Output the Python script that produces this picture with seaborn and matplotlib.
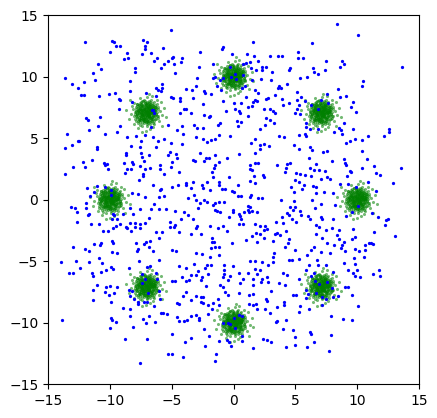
#!/usr/bin/env python3

import matplotlib
matplotlib.use("Agg")
import matplotlib.pyplot as plt
import numpy as np
import seaborn as sns

# centres of the eight green clusters
cluster_x = [10.0, 7.07, 0.0, -7.07, -10.0, -7.07, 0.0, 7.07]
cluster_y = [0.0, 7.07, 10.0, 7.07, 0.0, -7.07, -10.0, -7.07]

# spread of the points around each cluster centre: loose halo
green_halo = [
    (0.12, -0.31), (-0.45, 0.22), (0.63, 0.08), (-0.18, -0.72), (0.35, 0.51), (-0.71, -0.14), (0.05, 0.88),
    (0.92, -0.40), (-0.33, 0.05), (0.21, -0.09), (-0.58, 0.61), (0.44, -0.66), (-0.06, 0.37), (0.77, 0.29),
    (-0.92, -0.51), (0.28, 0.19), (-0.25, -0.40), (0.53, -0.21), (-0.40, 0.83), (0.10, -1.05), (1.12, 0.15),
    (-1.08, 0.30), (0.38, 1.02), (-0.20, 0.12), (0.66, -0.95), (-0.64, -0.82), (0.02, -0.18), (-0.13, 0.58),
    (0.85, 0.66), (-0.82, 0.48), (0.31, -0.43), (-0.49, -0.29), (0.16, 0.72), (0.58, 0.38), (-0.30, -1.10),
    (1.30, -0.22), (-1.25, -0.10), (0.47, 0.02), (-0.08, -0.55), (0.24, 0.41), (-0.68, 0.12), (0.71, -0.52),
    (-0.37, 0.44), (0.09, 1.25), (-0.55, -0.60), (0.95, 0.45), (-0.15, -0.85), (0.33, -1.30), (-1.02, 0.79),
    (0.60, 0.90), (-0.02, 0.06), (0.19, -0.66), (-0.77, -0.33), (0.40, 0.27), (-0.26, 0.98), (1.05, -0.70),
    (-0.44, -0.05), (0.13, 0.25), (0.81, -0.12), (-0.60, 0.35), (0.27, -0.24), (-0.11, -0.28), (0.52, 0.65),
    (-0.89, 0.02), (0.35, -0.80), (-0.47, 1.20), (1.45, 0.40), (-1.40, -0.55), (0.00, -1.48), (0.20, 1.55),
    (-0.34, -0.16), (0.69, 0.14), (-0.19, 0.29), (0.07, -0.38), (0.49, -0.35), (-0.52, -0.97), (0.88, 1.02),
    (-0.98, -0.95), (0.15, 0.48), (-0.07, 0.80), (0.36, 0.12), (-0.29, -0.61), (0.62, -0.02), (-0.75, 0.70),
    (0.03, -0.80), (1.18, 0.85), (-1.15, 0.55), (0.55, -1.15), (-0.62, -1.25), (0.25, 0.95), (-0.42, 0.18),
    (0.11, 0.03), (0.74, 0.48), (-0.23, -0.22), (0.42, -0.55), (-0.86, -0.68), (0.30, 0.62), (-0.14, 1.05),
    (1.60, -0.35), (-1.62, 0.20), (0.57, 0.22), (-0.38, -0.45), (0.18, -0.12), (-0.04, 0.45), (0.93, -0.25),
    (-0.70, -0.08), (0.46, 1.32), (-0.32, -1.55), (1.25, -1.05), (-1.30, 1.05),
]

# dense core of each cluster
green_core = [
    (0.05, 0.10), (-0.12, 0.22), (0.25, -0.05), (-0.30, -0.15), (0.18, 0.35), (-0.08, -0.32), (0.40, 0.12),
    (-0.42, 0.05), (0.10, -0.20), (-0.20, 0.40), (0.33, -0.28), (-0.25, -0.35), (0.00, 0.00), (0.15, 0.05),
    (-0.05, 0.15), (0.28, 0.22), (-0.35, 0.28), (0.22, -0.40), (-0.15, -0.10), (0.45, -0.15), (-0.48, -0.22),
    (0.08, 0.48), (-0.02, -0.50), (0.36, 0.40), (-0.38, -0.42), (0.52, 0.25), (-0.55, 0.18), (0.12, -0.55),
    (-0.22, 0.55), (0.60, -0.05), (-0.60, -0.02), (0.03, 0.62), (-0.10, -0.65), (0.42, -0.45), (-0.45, 0.46),
    (0.20, 0.15), (-0.18, -0.22), (0.30, 0.02), (-0.28, 0.08), (0.06, -0.30), (-0.07, 0.30), (0.38, -0.02),
    (-0.40, -0.05), (0.14, 0.26), (-0.16, -0.48), (0.48, 0.08), (-0.50, 0.32), (0.26, -0.18), (-0.32, -0.28),
    (0.09, 0.38), (-0.03, -0.12), (0.20, -0.30), (-0.24, 0.20), (0.35, 0.30), (-0.36, -0.10), (0.55, -0.30),
    (-0.58, -0.35), (0.30, 0.55), (-0.30, 0.62), (0.02, 0.20), (0.16, -0.08), (-0.12, -0.02), (0.44, 0.46),
    (-0.46, -0.52), (0.66, 0.20), (-0.66, 0.10), (0.10, -0.70), (-0.05, 0.72), (0.24, 0.00), (-0.26, -0.04),
    (0.07, 0.12), (-0.09, 0.06), (0.12, -0.12), (-0.14, 0.12), (0.32, -0.10), (-0.34, 0.18), (0.20, 0.42),
    (-0.20, -0.40), (0.50, -0.50), (-0.52, 0.55), (0.04, -0.04), (0.18, 0.20), (-0.18, 0.32), (0.27, -0.34),
    (-0.29, -0.20), (0.40, 0.22), (-0.42, 0.24), (0.22, -0.24), (-0.22, -0.56), (0.58, 0.40), (0.70, -0.28),
    (-0.72, -0.20), (0.34, 0.68), (-0.36, 0.70), (0.26, -0.66), (-0.40, -0.62), (0.13, 0.55), (-0.56, 0.02),
    (0.62, 0.06), (0.00, -0.40), (-0.10, 0.50), (0.46, -0.04),
]

# ring between core and halo
green_mid = [
    (0.75, 0.10), (-0.78, 0.05), (0.05, 0.80), (-0.02, -0.78), (0.55, 0.55), (-0.55, 0.58), (0.58, -0.55),
    (-0.60, -0.52), (0.85, -0.30), (-0.82, 0.32), (0.30, 0.85), (-0.32, -0.85), (0.68, 0.42), (-0.70, -0.40),
    (0.40, -0.72), (-0.42, 0.72), (0.90, 0.05), (-0.90, -0.08), (0.10, -0.90), (-0.08, 0.92), (0.62, 0.18),
    (-0.65, 0.22), (0.22, 0.64), (-0.20, -0.66), (0.50, -0.38), (-0.48, 0.40), (0.44, 0.60), (-0.46, -0.64),
    (0.78, -0.48), (-0.76, 0.50), (0.48, 0.78), (-0.50, -0.80), (0.70, 0.65), (-0.68, -0.70), (0.66, -0.70),
    (-0.72, 0.68), (0.95, 0.30), (-0.95, -0.30), (0.32, -0.95), (-0.30, 0.95), (0.58, 0.02), (-0.60, 0.00),
    (0.00, 0.58), (0.04, -0.60), (0.80, 0.48), (-0.52, 0.82), (0.52, -0.82), (-0.82, -0.25), (0.25, 0.80),
    (-0.28, -0.52), (0.82, -0.08), (-0.85, 0.15), (0.15, -0.82), (-0.12, 0.82), (0.64, -0.30), (-0.62, 0.36),
    (0.36, 0.40), (-0.40, -0.28), (0.72, 0.30), (-0.35, 0.50),
]

# blue points, y > 5
blue_upper = [
    (-12.0, 12.8), (-9.8, 12.9), (-9.7, 12.8), (-9.5, 12.5), (-9.2, 12.5), (-10.0, 12.0), (-8.6, 11.9),
    (-8.9, 11.4), (-8.5, 11.5), (-7.3, 12.95), (-7.0, 12.8), (-7.2, 12.5), (-7.2, 12.2), (-7.4, 11.8),
    (-6.7, 11.9), (-5.7, 12.3), (-6.4, 11.3), (-6.2, 11.5), (-5.6, 11.0), (-5.3, 11.3), (-11.0, 11.0),
    (-10.7, 10.65), (-11.4, 10.3), (-11.2, 9.7), (-12.1, 9.55), (-13.6, 9.9), (-13.1, 9.4), (-12.6, 9.06),
    (-12.3, 8.5), (-12.1, 8.5), (-10.9, 8.4), (-10.06, 8.57), (-9.6, 8.7), (-9.3, 8.2), (-9.2, 8.1),
    (-8.4, 9.6), (-8.0, 10.7), (-8.0, 10.36), (-8.4, 8.8), (-8.2, 7.9), (-5.85, 10.7), (-6.3, 9.1),
    (-6.1, 8.9), (-5.9, 8.8), (-5.8, 9.4), (-5.8, 9.05), (-7.1, 8.65), (-6.3, 8.4), (-9.3, 7.35),
    (-6.5, 7.3), (-6.6, 7.3), (-6.4, 7.0), (-5.3, 6.1), (-11.9, 6.6), (-11.8, 6.5), (-10.8, 6.7),
    (-11.0, 6.0), (-11.7, 5.65), (-13.5, 5.3), (-10.4, 5.3), (-9.2, 5.98), (-9.4, 5.5), (-8.6, 5.1),
    (-7.85, 5.2), (-7.2, 5.25), (-6.7, 5.9), (-6.5, 5.1),
    (-5.1, 13.8), (1.6, 12.8), (-0.85, 12.4), (-0.93, 12.25), (-2.7, 12.0), (-0.12, 11.8), (1.1, 11.8),
    (1.67, 11.7), (2.97, 11.65), (3.6, 11.65), (3.9, 11.65), (-4.9, 11.6), (-5.0, 11.5), (-4.2, 11.5),
    (-4.25, 11.2), (-4.8, 11.0), (-2.8, 10.8), (-1.66, 11.0), (-4.74, 10.3), (0.78, 11.0), (1.0, 11.1),
    (1.34, 11.2), (1.99, 11.3), (1.43, 10.7), (1.8, 10.5), (2.3, 10.5), (2.3, 10.8), (2.6, 10.8),
    (3.1, 10.4), (4.5, 10.5), (4.6, 10.7), (-0.28, 10.76), (-0.2, 10.0), (0.2, 9.8), (0.13, 10.2),
    (-0.85, 9.9), (-1.1, 9.7), (-1.66, 9.9), (-1.5, 9.95), (-1.33, 9.2), (-1.0, 8.9), (0.78, 10.1),
    (0.94, 9.2), (0.72, 9.06), (1.45, 9.7), (2.2, 9.8), (1.75, 8.9), (2.0, 8.7), (3.05, 9.7),
    (3.8, 9.06), (3.7, 9.2), (3.6, 9.1), (4.34, 9.4), (-2.95, 9.9), (-3.0, 9.2), (-3.36, 8.9),
    (-3.85, 8.98), (-2.4, 8.8), (-2.3, 8.65), (-1.8, 8.6), (-5.06, 8.33), (-4.9, 8.25), (-4.33, 8.25),
    (-4.33, 8.0), (-3.3, 8.25), (-0.85, 8.0), (0.0, 7.85), (0.61, 7.85), (1.0, 8.3), (1.6, 7.9),
    (1.75, 8.1), (1.9, 8.0), (1.5, 7.6), (1.18, 7.5), (2.6, 8.17), (2.8, 8.25), (3.37, 8.5),
    (3.94, 8.17), (5.1, 8.1), (-4.0, 7.4), (-3.85, 7.4), (-2.44, 7.76), (-4.33, 7.0), (-3.44, 7.0),
    (-2.4, 6.87), (-1.9, 6.8), (-1.98, 6.7), (-0.6, 7.2), (0.13, 7.36), (0.45, 7.2), (0.53, 7.03),
    (1.18, 6.8), (0.3, 6.4), (0.37, 6.0), (0.61, 6.3), (2.48, 7.36), (2.97, 7.36), (3.2, 7.2),
    (2.64, 6.6), (2.97, 6.46), (3.37, 7.0), (3.29, 6.2), (2.56, 6.1), (2.15, 5.7), (4.0, 7.7),
    (4.5, 7.85), (5.15, 7.36), (-1.06, 6.2), (-1.25, 6.1), (-3.2, 6.1), (-4.2, 6.0), (-4.6, 5.65),
    (-2.95, 5.8), (-2.47, 5.8), (-4.1, 5.3), (-3.0, 5.1), (-1.17, 5.25), (-0.28, 5.17), (3.7, 5.17),
    (4.1, 5.1),
    (8.36, 14.3), (10.07, 13.4), (6.33, 12.7), (5.2, 12.0), (5.2, 11.5), (5.6, 11.5), (7.47, 11.25),
    (8.77, 11.25), (8.93, 11.0), (8.6, 10.76), (6.4, 10.7), (6.5, 10.4), (7.39, 10.5), (6.8, 10.2),
    (13.63, 10.76), (5.36, 9.87), (5.93, 9.95), (10.47, 9.6), (10.4, 9.2), (8.44, 8.98), (5.12, 8.73),
    (5.44, 8.33), (7.55, 8.57), (8.6, 8.33), (9.09, 8.4), (9.66, 7.9), (9.5, 7.5), (9.9, 7.1),
    (5.28, 7.68), (5.77, 8.0), (6.3, 7.68), (7.06, 8.08), (7.6, 7.84), (6.8, 7.36), (4.96, 7.03),
    (5.36, 6.95), (5.85, 6.2), (6.2, 5.73), (5.85, 5.9), (6.8, 5.73), (8.93, 6.2), (8.52, 5.8),
    (8.7, 5.65), (8.1, 5.5), (9.66, 5.73), (8.77, 5.33), (10.9, 5.17), (12.17, 5.17), (12.58, 5.73),
    (12.58, 5.5), (5.28, 5.25), (5.77, 5.33), (5.85, 5.17),
]

# blue points, -5 < y < 5
blue_middle = [
    (-12.6, 4.73), (-12.5, 4.8), (-13.63, 4.16), (-13.06, 4.4), (-11.04, 4.24), (-11.04, 4.08), (-7.47, 4.8),
    (-6.1, 4.73), (-5.6, 4.9), (-5.04, 4.56), (-8.28, 4.32), (-7.55, 4.24), (-6.25, 4.24), (-8.7, 3.75),
    (-8.7, 3.6), (-7.47, 3.75), (-7.39, 3.43), (-6.82, 3.59), (-5.28, 3.59), (-5.12, 3.83), (-11.44, 3.19),
    (-12.17, 3.02), (-12.0, 2.62), (-12.98, 2.62), (-10.47, 2.94), (-10.39, 2.78), (-10.14, 2.48), (-10.23, 2.86),
    (-8.85, 2.94), (-8.2, 3.02), (-8.12, 2.86), (-8.6, 2.46), (-8.28, 2.46), (-8.77, 2.13), (-7.23, 3.1),
    (-7.55, 2.7), (-7.14, 2.46), (-6.74, 2.54), (-7.3, 2.05), (-7.3, 1.89), (-7.63, 1.56), (-5.93, 2.78),
    (-5.93, 2.46), (-5.04, 2.62), (-4.96, 3.02), (-5.6, 2.05), (-6.5, 1.16), (-13.63, 2.05), (-11.85, 0.98),
    (-11.6, 0.27), (-11.28, 0.59), (-9.9, 0.75), (-9.9, 0.35), (-11.04, 1.08), (-10.39, 1.0), (-8.2, 0.51),
    (-7.71, 0.43), (-7.14, 0.19), (-6.0, 0.19), (-5.93, 0.75), (-5.85, 0.83), (-5.6, 0.27), (-4.96, 1.0),
    (-13.14, -0.62), (-12.82, -0.7), (-12.66, -1.03), (-11.93, -0.3), (-11.93, -0.7), (-11.77, -1.27),
    (-11.7, -1.19), (-12.66, -1.84), (-11.52, -2.0), (-10.87, -2.0), (-9.74, -1.19), (-9.66, -1.27),
    (-9.82, -1.6), (-9.42, -1.6), (-8.93, -1.19), (-9.17, -2.0), (-8.68, -2.25), (-8.36, -0.7), (-8.12, -1.19),
    (-7.55, -0.79), (-6.66, -0.79), (-6.41, -0.38), (-6.0, -0.79), (-5.44, -0.79), (-8.36, -1.92),
    (-7.95, -1.92), (-8.6, -2.33), (-8.28, -2.57), (-7.95, -2.25), (-7.55, -2.33), (-7.55, -2.0),
    (-10.14, -2.57), (-10.55, -2.57), (-9.74, -2.33), (-9.5, -2.16), (-6.82, -1.52), (-7.14, -1.92),
    (-6.25, -2.65), (-5.77, -2.65), (-5.12, -1.84), (-5.12, -2.25), (-12.98, -3.87), (-12.0, -4.03),
    (-11.69, -4.2), (-11.28, -3.62), (-10.79, -3.7), (-10.71, -3.54), (-10.87, -4.76), (-9.82, -3.38),
    (-9.74, -3.54), (-9.82, -4.27), (-9.42, -4.35), (-7.87, -3.54), (-7.23, -3.62), (-7.06, -3.46),
    (-6.74, -3.38), (-6.82, -3.87), (-7.71, -4.03), (-7.8, -4.2), (-6.5, -4.2), (-6.0, -3.14), (-6.0, -4.92),
    (-4.96, -4.11), (-12.74, -5.0), (-13.96, -5.08), (-11.69, -5.08), (-7.63, -5.0),
    (-2.47, 4.89), (-2.14, 4.65), (-1.82, 4.81), (-1.5, 4.89), (-4.17, 4.48), (-4.66, 3.67), (-4.58, 3.35),
    (-3.28, 3.19), (-3.12, 3.1), (-2.71, 3.75), (-2.39, 3.1), (-2.22, 3.35), (-1.98, 3.35), (-1.5, 3.59),
    (-1.17, 3.02), (-0.52, 3.35), (0.45, 3.67), (1.42, 4.56), (1.75, 4.89), (2.15, 4.4), (2.15, 4.08),
    (2.48, 4.48), (2.88, 4.32), (4.91, 4.4), (1.75, 3.75), (-4.42, 2.21), (-4.5, 1.16), (-3.85, 1.32),
    (-3.85, 1.16), (-3.28, 1.4), (-3.44, 0.92), (-2.55, 1.16), (-2.47, 0.92), (-2.14, 1.4), (-1.9, 0.75),
    (-1.5, 2.78), (-1.58, 2.54), (-1.74, 2.21), (-1.66, 1.81), (-1.17, 1.4), (-1.17, 1.16), (-0.93, 0.83),
    (-0.68, 0.83), (-0.36, 1.81), (0.37, 1.16), (-0.12, 0.67), (0.05, 0.59), (0.37, 0.27), (0.61, 0.27),
    (1.34, 2.78), (1.34, 2.46), (1.5, 2.38), (1.75, 2.94), (1.99, 2.94), (1.67, 1.89), (1.34, 1.48),
    (1.75, 1.32), (2.4, 1.97), (2.48, 1.81), (3.53, 2.78), (4.26, 2.54), (4.34, 2.86), (4.59, 2.94),
    (4.18, 2.21), (5.07, 2.13), (4.99, 1.56), (4.67, 1.0), (4.91, 0.59), (1.34, 0.19), (1.42, 0.35),
    (1.99, 0.11), (2.31, 0.11), (3.86, -0.06), (-3.68, 0.11), (-3.2, 0.35), (-3.03, -0.06), (-2.71, -0.3),
    (-2.39, -0.06), (-2.14, -0.22), (-1.66, -0.46), (-1.5, -0.3), (-1.17, -0.22), (-0.76, -0.22),
    (-1.09, -1.03), (-1.33, -0.95), (-1.5, -0.87), (-2.87, -0.7), (-4.01, -1.03), (-3.68, -1.27),
    (-4.74, -0.95), (-4.25, -1.6), (-3.28, -1.6), (-4.82, -2.25), (-4.74, -2.08), (-4.42, -2.65),
    (-3.44, -2.81), (-2.63, -2.81), (-3.03, -2.33), (-2.95, -2.16), (-1.9, -2.16), (-1.25, -2.33),
    (-0.85, -2.16), (-0.52, -2.57), (-0.36, -1.43), (-0.04, -0.87), (-0.04, -1.03), (0.45, -1.19),
    (0.53, -1.35), (0.61, -1.6), (0.45, -2.0), (0.78, -2.0), (0.86, -1.03), (1.18, -0.87), (1.26, -1.03),
    (1.34, -0.62), (1.18, -0.54), (1.5, -0.95), (1.91, -1.03), (1.75, -2.0), (2.15, -2.16), (2.56, -2.16),
    (2.48, -2.49), (2.72, -2.41), (2.15, -2.81), (1.83, -2.73), (1.91, -3.46), (2.48, -3.14), (3.37, -2.81),
    (3.53, -2.73), (3.78, -2.89), (3.45, -1.84), (3.94, -1.43), (4.02, -1.92), (4.34, -1.11), (4.5, -1.27),
    (4.59, -0.62), (4.83, -0.87), (4.99, -0.62), (4.91, -0.14), (4.75, -1.6), (5.05, -1.84), (4.26, -2.57),
    (4.5, -3.22), (4.42, -3.54), (4.18, -3.87), (4.99, -4.11), (3.21, -3.38), (3.29, -4.35), (3.21, -4.68),
    (-4.66, -4.2), (-3.03, -4.35), (-2.55, -4.43), (-1.82, -3.95), (-1.9, -4.68), (-1.74, -3.14),
    (-1.74, -3.46), (-1.58, -3.46), (-1.5, -3.87), (-1.17, -3.87), (-1.17, -4.51), (-0.12, -3.54),
    (1.02, -3.3), (1.5, -2.97),
    (9.42, 4.73), (9.82, 4.89), (10.39, 4.81), (9.09, 4.56), (5.28, 4.08), (6.17, 4.24), (6.33, 4.0),
    (7.23, 3.83), (7.55, 3.99), (6.09, 3.35), (7.96, 3.1), (8.93, 3.27), (9.01, 2.94), (9.09, 2.78),
    (10.39, 3.99), (10.8, 3.27), (13.55, 2.54), (11.36, 2.7), (11.52, 2.13), (11.85, 1.97), (10.39, 2.54),
    (9.42, 2.3), (9.5, 2.21), (9.17, 1.89), (6.66, 2.86), (6.17, 2.54), (6.5, 2.38), (6.9, 2.38),
    (7.39, 2.3), (5.36, 2.05), (5.77, 1.97), (6.25, 1.89), (7.55, 1.81), (7.8, 1.65), (7.06, 1.65),
    (5.28, 1.4), (5.69, 1.16), (6.41, 1.08), (6.66, 1.0), (8.6, 1.24), (9.25, 1.24), (9.9, 1.0),
    (10.88, 1.4), (12.9, 1.32), (5.52, 0.83), (6.66, 0.51), (7.31, 0.59), (8.04, 0.51), (11.52, 0.67),
    (6.33, -0.06), (7.06, -0.38), (8.2, -0.46), (10.07, -0.54), (5.36, -0.95), (6.58, -0.7), (9.09, -1.35),
    (9.58, -1.03), (11.2, -1.11), (11.69, -1.43), (5.44, -1.27), (6.01, -1.35), (6.17, -1.6), (7.06, -1.43),
    (7.15, -1.6), (8.04, -1.6), (12.34, -1.68), (12.5, -1.6), (12.25, -2.08), (6.66, -2.08), (6.9, -2.25),
    (7.47, -2.49), (7.96, -2.33), (8.52, -2.49), (9.66, -2.41), (11.36, -2.65), (6.66, -2.81), (8.36, -2.89),
    (8.52, -3.22), (9.82, -3.06), (9.58, -3.22), (13.06, -2.97), (7.15, -3.14), (7.55, -3.54), (8.12, -3.7),
    (8.77, -3.7), (8.93, -3.46), (10.63, -3.7), (10.96, -3.54), (11.12, -3.54), (11.28, -3.62), (6.5, -3.87),
    (6.25, -4.11), (8.69, -3.95), (9.01, -4.2), (9.82, -4.03), (10.15, -4.2), (10.63, -4.11), (7.06, -4.27),
    (7.8, -4.35), (5.93, -4.51), (5.28, -4.84), (6.74, -4.92), (9.74, -4.76), (10.55, -4.68),
]

# blue points, y < -5
blue_lower = [
    (-10.63, -5.19), (-9.9, -5.51), (-9.74, -5.68), (-12.42, -5.6), (-6.74, -5.43), (-6.98, -5.51),
    (-8.44, -5.6), (-13.3, -6.0), (-12.98, -6.0), (-11.44, -6.0), (-11.36, -6.24), (-10.71, -5.92),
    (-10.3, -5.76), (-11.04, -6.97), (-11.36, -7.38), (-10.3, -7.14), (-10.39, -7.54), (-9.98, -7.05),
    (-10.06, -7.78), (-9.66, -7.62), (-9.42, -7.14), (-11.36, -8.19), (-9.9, -8.35), (-8.44, -7.38),
    (-8.2, -7.46), (-8.36, -7.86), (-7.39, -6.08), (-7.39, -6.81), (-7.14, -6.49), (-6.17, -6.49),
    (-6.25, -6.0), (-8.04, -8.11), (-7.71, -8.35), (-7.71, -8.52), (-7.23, -8.35), (-6.98, -8.35),
    (-6.41, -8.68), (-5.93, -8.11), (-6.9, -7.62), (-6.01, -7.46), (-8.93, -8.84), (-8.36, -8.92),
    (-8.36, -9.49), (-7.31, -9.73), (-6.82, -9.49), (-6.33, -9.97), (-7.06, -10.06), (-5.85, -9.24),
    (-5.69, -9.24), (-5.36, -9.33), (-9.9, -9.65), (-9.82, -9.81), (-9.5, -9.97), (-9.98, -10.46),
    (-13.88, -9.81), (-8.12, -10.38), (-8.77, -11.35), (-6.98, -11.35), (-5.28, -12.57), (-7.55, -13.3),
    (-4.41, -5.43), (-3.2, -5.27), (-2.14, -5.35), (-1.82, -5.35), (-0.76, -5.35), (-0.04, -5.43),
    (1.34, -5.03), (1.75, -5.03), (2.31, -5.11), (2.8, -5.35), (3.21, -5.11), (4.5, -4.95), (4.75, -4.95),
    (-3.85, -5.6), (-3.44, -6.16), (-3.6, -6.57), (-4.17, -6.32), (-3.85, -6.65), (-3.03, -6.16),
    (-2.87, -5.84), (-2.55, -6.32), (-2.63, -6.57), (-4.98, -6.65), (-4.74, -6.65), (-2.31, -5.6),
    (-2.06, -6.08), (-2.22, -7.06), (-0.76, -5.76), (-0.76, -6.08), (-0.85, -6.32), (-0.44, -6.57),
    (-0.28, -6.24), (0.45, -6.0), (0.78, -6.49), (0.53, -6.81), (1.18, -6.0), (1.58, -6.49), (1.91, -6.08),
    (2.15, -5.76), (1.75, -5.68), (-1.09, -6.97), (-0.85, -7.14), (-0.68, -7.54), (-0.44, -7.78),
    (0.45, -7.62), (1.26, -7.78), (1.58, -7.7), (1.58, -6.97), (2.23, -6.73), (2.31, -6.49), (2.8, -6.73),
    (2.72, -6.32), (3.05, -7.46), (3.7, -6.81), (4.02, -6.0), (4.18, -6.97), (4.34, -6.16), (4.83, -7.78),
    (5.07, -7.78), (-4.09, -7.87), (-3.85, -7.54), (-4.58, -8.43), (-4.41, -8.52), (-3.44, -8.19),
    (-3.03, -7.87), (-2.63, -7.95), (-2.47, -7.95), (-2.63, -8.35), (-2.47, -8.43), (-2.06, -8.6),
    (-1.66, -8.43), (-1.74, -8.92), (-1.25, -8.11), (-1.17, -8.6), (-2.06, -9.33), (-3.03, -9.41),
    (-2.79, -9.65), (-2.79, -9.81), (-3.44, -9.49), (-4.58, -9.57), (-4.41, -9.89), (-4.01, -9.89),
    (-3.77, -9.81), (-4.98, -10.95), (-3.93, -11.6), (-3.44, -11.27), (-2.39, -10.54), (-2.31, -11.92),
    (-1.98, -11.11), (-1.17, -11.52), (-0.52, -11.43), (-0.36, -11.6), (-0.2, -11.92), (-4.98, -12.57),
    (-4.09, -12.81), (-1.41, -12.57), (-1.5, -13.14), (-0.44, -10.06), (-0.28, -10.14), (0.0, -9.65),
    (0.45, -9.41), (0.7, -9.49), (-0.85, -10.06), (0.13, -10.46), (1.26, -8.46), (1.58, -8.54), (1.8, -8.5),
    (1.91, -8.92), (2.56, -8.92), (2.97, -9.25), (2.64, -8.11), (2.72, -8.27), (3.53, -8.76), (3.53, -9.89),
    (3.45, -9.97), (4.1, -8.35), (4.1, -8.6), (4.26, -9.81), (4.02, -10.54), (4.83, -10.62), (4.99, -11.19),
    (2.4, -11.35), (2.72, -11.43), (3.05, -11.6), (1.58, -12.08), (4.26, -12.0), (0.7, -11.11), (0.7, -11.52),
    (8.93, -5.19), (6.09, -5.35), (6.82, -5.35), (7.47, -5.35), (9.82, -5.27), (5.85, -5.76), (6.25, -6.24),
    (9.25, -5.76), (9.98, -5.76), (9.66, -6.0), (9.82, -6.24), (10.23, -6.33), (11.28, -6.08), (11.77, -5.76),
    (11.85, -6.24), (8.04, -5.92), (5.28, -6.49), (6.5, -6.0), (6.58, -6.65), (6.9, -6.9), (7.55, -6.73),
    (6.66, -7.62), (7.15, -7.95), (5.85, -7.38), (6.01, -7.7), (5.85, -8.03), (7.96, -7.22), (9.01, -7.14),
    (9.25, -7.14), (8.44, -7.87), (8.04, -7.95), (7.47, -8.11), (9.58, -7.78), (10.07, -8.68), (5.36, -8.68),
    (5.28, -9.16), (6.09, -8.92), (7.15, -8.6), (7.88, -9.49), (8.85, -9.73), (9.58, -9.81), (6.17, -10.79),
    (6.25, -10.95), (6.5, -11.6), (4.96, -11.84), (5.93, -12.0), (7.88, -11.03), (7.71, -12.33),
]

axis_ticks = [-15, -10, -5, 0, 5, 10, 15]


def green_points():
    offsets = np.array(green_halo + green_core + green_mid)
    xs = np.concatenate([cx + offsets[:, 0] for cx in cluster_x])
    ys = np.concatenate([cy + offsets[:, 1] for cy in cluster_y])
    return xs, ys


def main() -> None:
    fig = plt.figure(figsize=(4.37, 4.18), dpi=100)
    ax = fig.add_axes([0.110, 0.081, 0.849, 0.883])

    gx, gy = green_points()
    sns.scatterplot(x=gx, y=gy, color="g", s=5, linewidth=0, alpha=0.55, ax=ax)

    blue = np.array(blue_upper + blue_middle + blue_lower)
    sns.scatterplot(x=blue[:, 0], y=blue[:, 1], color="b", s=5.5, linewidth=0, ax=ax)

    ax.set_xlim(-15, 15)
    ax.set_ylim(-15, 15)
    ax.set_xticks(axis_ticks)
    ax.set_yticks(axis_ticks)

    fig.savefig("out.png", dpi=100)
    plt.close(fig)


if __name__ == "__main__":
    main()
